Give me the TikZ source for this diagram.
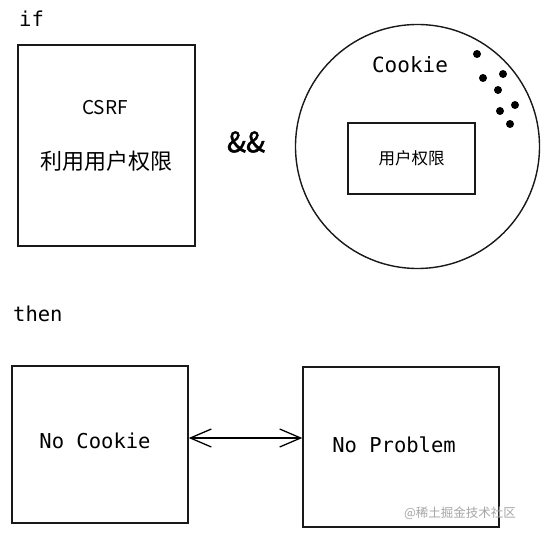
\documentclass[tikz,border=0pt]{standalone}
\usepackage{fontspec}
\setmainfont{Noto Sans CJK SC}
\newfontfamily\cjk{Noto Sans CJK SC}
\newfontfamily\cjkbold[FakeBold=1.6]{Noto Sans CJK SC}
\newfontfamily\monof{DejaVu Sans Mono}
\usetikzlibrary{arrows.meta}
\begin{document}
\begin{tikzpicture}[x=1pt,y=-1pt,
  box/.style={draw=black!90,line width=1.4pt},
  mono/.style={font=\monof\fontsize{20.5}{24}\selectfont,inner sep=0pt},
  dot/.style={fill=black,circle,inner sep=0pt,minimum size=8pt}]
\useasboundingbox[fill=white] (0,0) rectangle (543,534);
% if
\node[mono,anchor=base west] (iflbl) at (19,27) {if};
% CSRF box
\node[box,minimum width=177pt,minimum height=201pt,inner sep=0pt] (csrf) at (106.5,145.5) {};
\node[font=\cjk\fontsize{19}{22}\selectfont,inner sep=0pt] (csrft) at (105,108) {CSRF};
\node[font=\cjk\fontsize{22}{26}\selectfont,inner sep=0pt] (csrfc) at (106,161) {利用用户权限};
% &&
\node[font=\cjkbold\fontsize{28}{30}\selectfont,inner sep=0pt] (and) at (246,142) {\&\&};
% Cookie circle
\node[box,circle,minimum size=244pt,inner sep=0pt] (cookie) at (417.5,146.5) {};
\node[font=\monof\fontsize{21}{24}\selectfont,inner sep=0pt] (cookiet) at (410,65) {Cookie};
\node[dot] (d1) at (477,54) {};
\node[dot] (d2) at (483,78) {};
\node[dot] (d3) at (503,74) {};
\node[dot] (d4) at (498,90) {};
\node[dot] (d5) at (515,105) {};
\node[dot] (d6) at (500,111) {};
\node[dot] (d7) at (510,124) {};
\node[box,minimum width=127pt,minimum height=71pt,inner sep=0pt,font=\cjk\fontsize{16.5}{20}\selectfont] (perm) at (411.5,158.5) {用户权限};
% then
\node[mono,anchor=base west] (thenlbl) at (13,322) {then};
% bottom boxes
\node[box,minimum width=176pt,minimum height=157pt,inner sep=0pt] (nocookie) at (100,444.5) {};
\node[mono] (nocookiet) at (95,441) {No Cookie};
\node[box,minimum width=196pt,minimum height=160pt,inner sep=0pt] (noprob) at (401,447) {};
\node[mono] (noprobt) at (394,445) {No Problem};
\draw[line width=1.3pt,{Straight Barb[length=21pt,width=18pt,line width=1.3pt]}-{Straight Barb[length=21pt,width=18pt,line width=1.3pt]}]
  (nocookie.east |- 0,438) -- (noprob.west |- 0,438);
% watermark
\node[font=\cjk\fontsize{12.5}{15}\selectfont,text=black!35,inner sep=0pt] (wm) at (460,513) {@稀土掘金技术社区};
\end{tikzpicture}
\end{document}
